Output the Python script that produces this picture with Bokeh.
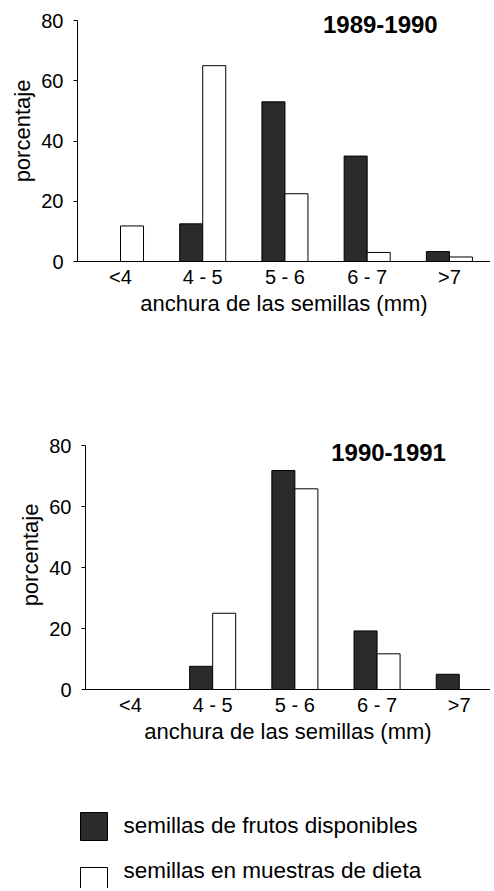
import numpy as np
from bokeh.plotting import figure
from bokeh.models import ColumnDataSource, Range1d, FixedTicker, Label
from bokeh.transform import dodge
from bokeh.core.properties import value
from bokeh.embed import file_html
from bokeh.resources import INLINE

categories = ["<4", "4 - 5", "5 - 6", "6 - 7", ">7"]
disp_8990 = [0, 12.5, 53, 35, 3.3]
dieta_8990 = [11.8, 65, 22.5, 3, 1.5]
disp_9091 = [0, 7.6, 71.8, 19.2, 5]
dieta_9091 = [0, 25, 65.8, 11.7, 0]
titles = ["1989-1990", "1990-1991"]
y_ticks = [0, 20, 40, 60, 80]
legend_labels = ["semillas de frutos disponibles", "semillas en muestras de dieta"]
x_title = "anchura de las semillas (mm)"
y_title = "porcentaje"

FONT = "Liberation Sans"
DARK = "#2b2b2b"
W = 490


def make_chart(disp, dieta, title, height, bl, bb, xr, ytop, title_xy):
    xs = np.arange(len(categories)) + 0.5
    src = ColumnDataSource(dict(x=xs, disp=disp, dieta=dieta))
    p = figure(width=W, height=height, output_backend="svg", toolbar_location=None,
               x_range=Range1d(*xr), y_range=Range1d(0, ytop),
               min_border_left=bl, min_border_right=0, min_border_top=0,
               min_border_bottom=bb)
    p.outline_line_color = None
    p.grid.visible = False
    p.background_fill_color = "white"
    p.border_fill_color = "white"
    bw = 0.28
    p.vbar(x=dodge("x", -bw / 2, range=p.x_range), top="disp", bottom=0, width=bw,
           source=src, fill_color=DARK, line_color="black", line_width=1)
    p.vbar(x=dodge("x", bw / 2, range=p.x_range), top="dieta", bottom=0, width=bw,
           source=src, fill_color="white", line_color="black", line_width=1)

    p.xaxis.ticker = FixedTicker(ticks=list(xs))
    p.xaxis.major_label_overrides = {float(x): c for x, c in zip(xs, categories)}
    p.xaxis.major_tick_out = 0
    p.xaxis.major_tick_in = 0
    p.xaxis.minor_tick_out = 0
    p.xaxis.minor_tick_in = 0
    p.xaxis.major_label_standoff = 4
    p.xaxis.axis_label = x_title
    p.xaxis.axis_label_standoff = 0

    p.yaxis.ticker = FixedTicker(ticks=y_ticks)
    p.yaxis.bounds = (0, 80)
    p.yaxis.major_tick_out = 4
    p.yaxis.major_tick_in = 0
    p.yaxis.minor_tick_out = 0
    p.yaxis.minor_tick_in = 0
    p.yaxis.major_label_standoff = 10
    p.yaxis.axis_label = y_title
    p.yaxis.axis_label_standoff = 3

    for ax in (p.xaxis, p.yaxis):
        ax.axis_line_color = "black"
        ax.axis_line_width = 1
        ax.major_tick_line_color = "black"
        ax.major_label_text_font = FONT
        ax.major_label_text_font_size = "20px"
        ax.major_label_text_color = "black"
        ax.axis_label_text_font = FONT
        ax.axis_label_text_font_size = "22px"
        ax.axis_label_text_font_style = "normal"
        ax.axis_label_text_color = "black"

    p.add_layout(Label(x=title_xy[0], y=title_xy[1], text=title, text_align="center",
                       text_baseline="middle", text_font=FONT, text_font_size="24px",
                       text_font_style="bold", text_color="black"))
    return p


p1 = make_chart(disp_8990, dieta_8990, titles[0], 420, 77, 159,
                (-0.023, 5.0), 86.64, (3.66, 78.7))
p2 = make_chart(disp_9091, dieta_9091, titles[1], 370, 85, 101,
                (-0.047, 4.88), 88.2, (3.64, 77.7))

# legend panel
LH = 98
p3 = figure(width=W, height=LH, output_backend="svg", toolbar_location=None,
            x_range=Range1d(0, W), y_range=Range1d(LH, 0),
            x_axis_location=None, y_axis_location=None, min_border=0)
p3.outline_line_color = None
p3.grid.visible = False
leg = ColumnDataSource(dict(x=[93.5, 93.5], y=[36, 91], tx=[123, 123], ty=[35, 80],
                            fill=[DARK, "white"], label=legend_labels))
p3.rect(x="x", y="y", width=27, height=28, fill_color="fill", line_color="black",
        line_width=1, source=leg)
p3.text(x="tx", y="ty", text="label", text_font=value(FONT), text_font_size="22.5px",
        text_baseline="middle", text_align="left", text_color="black", source=leg)

open("out.html", "w").write(file_html([p1, p2, p3], INLINE))
